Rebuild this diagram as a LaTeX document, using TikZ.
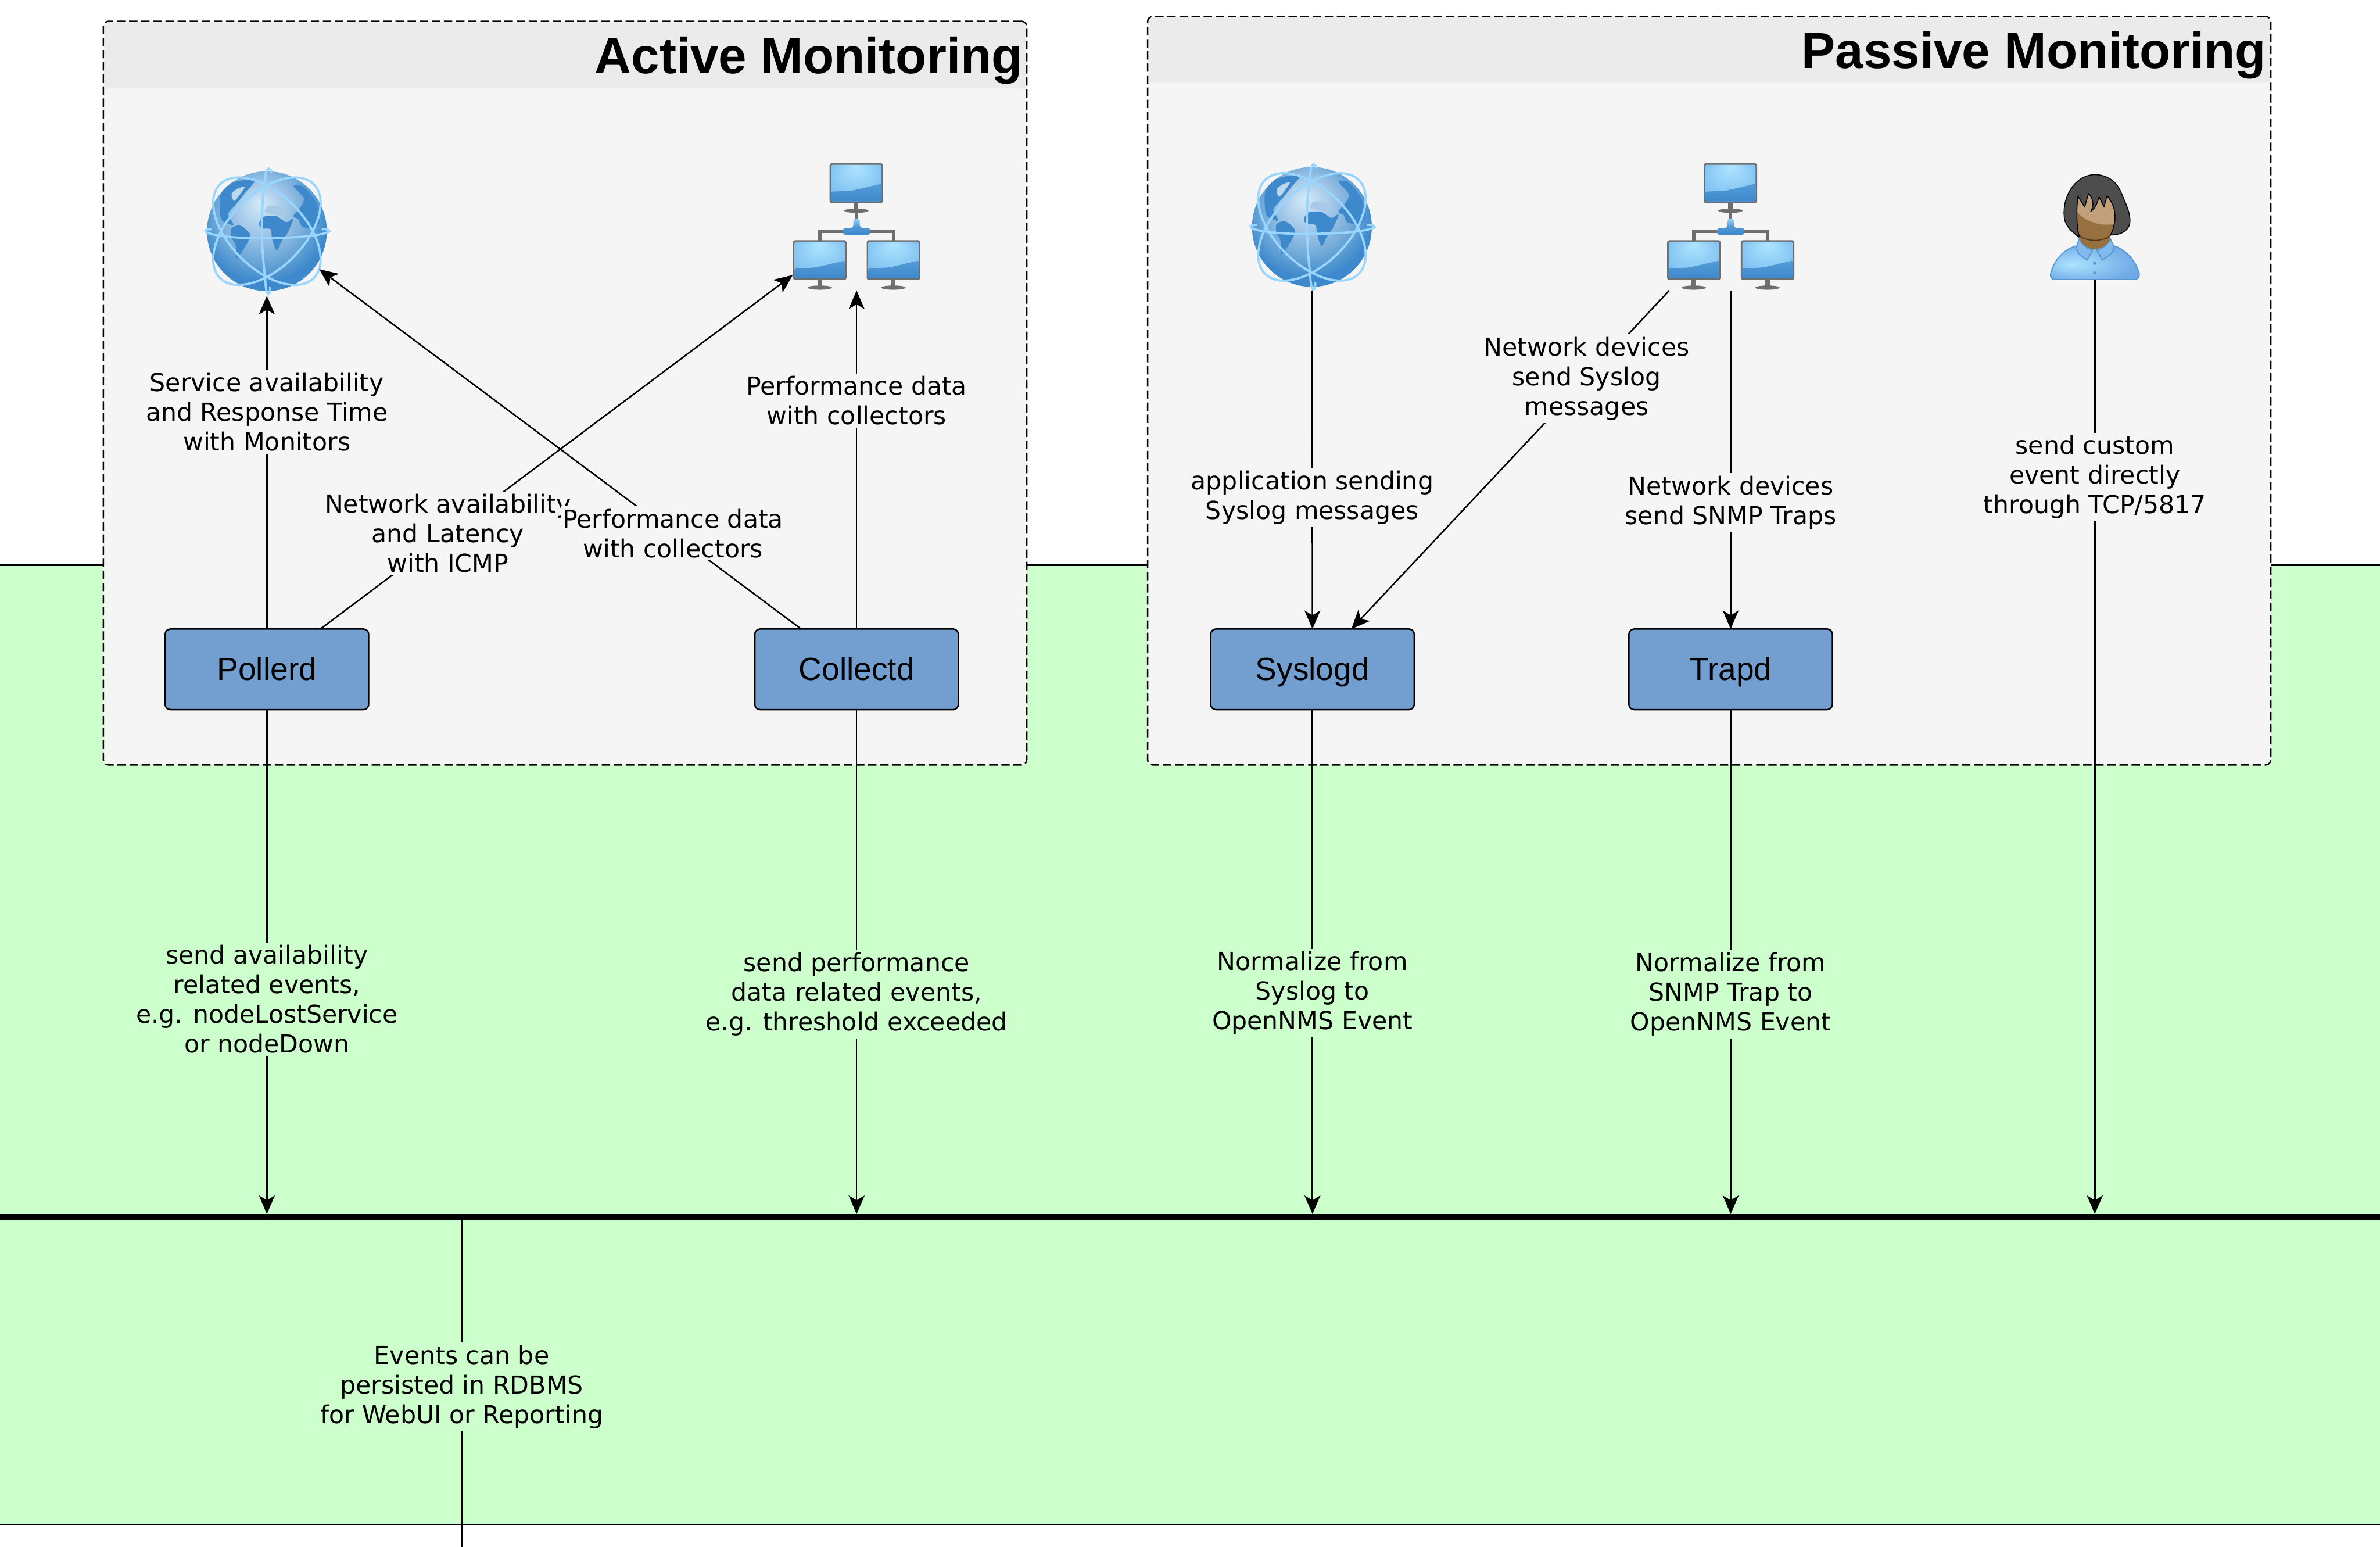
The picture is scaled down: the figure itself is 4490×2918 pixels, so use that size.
\documentclass[tikz,border=0pt]{standalone}
\usepackage{fontspec}
\setmainfont{Liberation Sans}
\newfontfamily\lblfont{DejaVu Sans}
\usepackage{xcolor}
\usetikzlibrary{arrows.meta,positioning,calc}
\definecolor{bandgreen}{HTML}{CCFFCC}
\definecolor{panelgray}{HTML}{F5F5F5}
\definecolor{headgray}{HTML}{EBEBEB}
\definecolor{daemonblue}{HTML}{729FCF}
\definecolor{ringblue}{HTML}{99D6FF}
\definecolor{deepblue}{HTML}{3D89CB}
\definecolor{framegray}{HTML}{6E6E6E}
\definecolor{hair}{HTML}{4D4D4D}
\definecolor{shirtline}{HTML}{5496CE}
\definecolor{shirtpale}{HTML}{AEE4FF}
\definecolor{shirtdeep}{HTML}{6FA8E6}
\definecolor{skinpale}{HTML}{C1A07A}
\definecolor{skindeep}{HTML}{97703F}
\definecolor{glowa}{HTML}{D5EAF9}
\definecolor{glowb}{HTML}{A5C9E8}
\definecolor{glowc}{HTML}{78AEDB}
\pgfdeclareradialshading{globeglow}{\pgfpoint{-3bp}{12bp}}{color(0bp)=(glowa); color(10bp)=(glowb); color(18bp)=(glowc); color(27bp)=(deepblue); color(50bp)=(deepblue)}
\pgfdeclareradialshading{screenglow}{\pgfpoint{0bp}{22bp}}{color(0bp)=(shirtpale); color(28bp)=(ringblue!75!deepblue); color(50bp)=(ringblue!50!deepblue)}
\pgfdeclareradialshading{shirtglow}{\pgfpoint{-14bp}{-3bp}}{color(0bp)=(shirtpale); color(30bp)=(shirtdeep); color(50bp)=(shirtdeep)}
\tikzset{
  panelbox/.style={draw=black,dash pattern=on 4.5pt off 2pt,fill=panelgray,rounded corners=1mm,line width=0.27mm,inner sep=0pt},
  iconbox/.style={inner sep=0pt,outer sep=0pt},
  daemon/.style={draw=black,fill=daemonblue,rounded corners=1mm,line width=0.27mm,
                 minimum width=38.4mm,minimum height=15.2mm,inner sep=0pt,outer sep=0pt,
                 text height=12pt,text depth=0.3pt,font=\fontsize{17.2}{20}\selectfont},
  arr/.style={-{Stealth[length=3.5mm,width=3mm,inset=0.9mm]},line width=0.28mm,black},
  lbl/.style={align=center,font=\lblfont\fontsize{13.3}{15.9}\selectfont,inner xsep=0.3mm,inner ysep=0.5mm},
  lblp/.style={lbl,fill=panelgray},
  lblg/.style={lbl,fill=bandgreen},
  headline/.style={font=\fontsize{27.2}{30}\selectfont\bfseries,anchor=east,inner sep=0pt},
  % one monitor, centred on its screen
  screen/.pic={
    \fill[framegray] (-4,37) rectangle (4,50);
    \fill[framegray] (0,52) ellipse [x radius=23,y radius=4];
    \fill[framegray,rounded corners=0.4mm] (-50.5,-37.5) rectangle (50.5,37.5);
    \shade[shading=screenglow,rounded corners=0.2mm] (-47.5,-34.5) rectangle (47.5,34.5);
    \shade[top color=deepblue!75!ringblue,bottom color=deepblue,rounded corners=0.2mm]
      (-47.5,16) .. controls (-20,15) and (-5,14) .. (0,12) .. controls (15,9) and (30,5) .. (47.5,1) -- (47.5,34.5) -- (-47.5,34.5) -- cycle;
  },
  netgroup/.pic={
    \draw[framegray,line width=0.6mm] (0,-30) -- (0,-10);
    \draw[framegray,line width=0.6mm] (-69.5,26) -- (-69.5,9) -- (69.5,9) -- (69.5,26);
    \pic at (-0.5,-82.5) {screen};
    \pic at (-69.5,62.5) {screen};
    \pic at (69.5,62.5) {screen};
    \shade[top color=ringblue,bottom color=deepblue,middle color=deepblue!80!ringblue,rounded corners=0.5mm]
      (-6,-16) -- (6,-16) -- (6,2) -- (26,2) -- (26,15) -- (-26,15) -- (-26,2) -- (-6,2) -- cycle;
  },
  globe/.pic={
    \shade[shading=globeglow] (0,0) circle (113);
    \begin{scope}
      \clip (0,0) circle (113);
      \begin{scope}[scale=1/3,shift={(-490,-436)}]
        \fill[deepblue] plot[smooth cycle] coordinates {(225,240) (270,175) (340,150) (420,150) (370,215) (335,260) (300,300) (270,340) (300,400) (240,380) (225,340)};
        \fill[deepblue] plot[smooth cycle] coordinates {(290,420) (340,405) (395,455) (375,510) (340,565) (315,590) (315,520) (290,470)};
        \fill[deepblue] plot[smooth cycle] coordinates {(445,390) (470,355) (540,350) (600,385) (640,365) (610,440) (575,490) (545,545) (520,480) (510,425) (460,420)};
        \fill[deepblue] plot[smooth cycle] coordinates {(640,180) (690,180) (740,230) (780,300) (790,380) (760,420) (690,410) (670,370) (640,350) (680,300) (700,250)};
        \fill[deepblue!45!white] plot[smooth cycle] coordinates {(480,325) (500,295) (560,295) (610,335) (540,345)};
        \fill[deepblue!35!white] plot[smooth cycle] coordinates {(290,225) (325,195) (365,185) (340,225) (305,265)};
      \end{scope}
    \end{scope}
    \draw[ringblue,line width=0.42mm] (0,0) ellipse [x radius=125,y radius=70,rotate=45];
    \draw[ringblue,line width=0.42mm] (0,0) ellipse [x radius=125,y radius=70,rotate=-45];
    \begin{scope}[scale=1/3,shift={(-490,-436)}]
      \draw[ringblue,line width=0.42mm] (140,437) .. controls (180,470) and (400,480) .. (490,475) .. controls (620,475) and (800,465) .. (845,437) .. controls (840,425) and (825,425) .. (800,425);
      \draw[ringblue,line width=0.42mm] (140,437) .. controls (142,425) and (160,425) .. (180,425);
      \draw[ringblue,line width=0.42mm] (480,150) .. controls (480,110) and (490,85) .. (500,82) .. controls (510,85) and (515,95) .. (515,105);
      \draw[ringblue,line width=0.42mm] (480,150) .. controls (455,300) and (455,500) .. (480,700) .. controls (482,760) and (490,790) .. (497,792) .. controls (510,785) and (510,770) .. (508,750);
    \end{scope}
  },
  person/.pic={
    \begin{scope}[scale=1/3,shift={(-516,-384)}]
      \fill[hair,draw=black,line width=0.17mm] (428,443) .. controls (370,400) and (345,370) .. (342,320) .. controls (335,190) and (420,88) .. (515,88) .. controls (590,88) and (640,130) .. (665,190) .. controls (690,250) and (715,300) .. (715,350) .. controls (715,400) and (670,430) .. (605,430) -- cycle;
      \fill[skindeep] (430,430) -- (605,430) -- (602,470) -- (520,515) -- (430,470) -- cycle;
      \shade[shading=shirtglow,draw=shirtline,line width=0.2mm] (265,650) .. controls (285,570) and (340,510) .. (415,490) -- (620,490) .. controls (690,510) and (745,570) .. (768,650) .. controls (770,670) and (755,682) .. (740,682) -- (290,682) .. controls (275,682) and (262,670) .. (265,650) -- cycle;
      \fill[shirtdeep!70!shirtpale,draw=shirtline,line width=0.2mm] (428,448) .. controls (445,490) and (480,510) .. (503,515) -- (472,572) .. controls (440,550) and (420,535) .. (415,515) -- (415,490) -- cycle;
      \fill[shirtdeep!70!shirtpale,draw=shirtline,line width=0.2mm] (602,448) .. controls (590,490) and (550,510) .. (527,515) -- (558,572) .. controls (590,550) and (615,535) .. (620,515) -- (622,490) -- cycle;
      \fill[skindeep] (432,440) -- (600,440) -- (598,470) .. controls (570,495) and (540,510) .. (515,510) .. controls (490,510) and (460,495) .. (436,470) -- cycle;
      \fill[shirtline] (515,590) circle (9) (515,645) circle (9);
      \begin{scope}
        \path[clip] (420,210) -- (458,272) -- (480,195) .. controls (505,220) and (515,260) .. (493,295) .. controls (515,285) and (530,250) .. (540,215) -- (568,270) -- (585,208) .. controls (620,250) and (632,290) .. (630,340) .. controls (625,390) and (610,420) .. (605,430) .. controls (570,470) and (460,470) .. (428,430) .. controls (410,370) and (412,290) .. (420,210) -- cycle;
        \fill[skindeep] (400,190) rectangle (640,480);
        \fill[skinpale] (400,190) -- (640,190) -- (640,365) .. controls (560,385) and (470,360) .. (410,295) -- cycle;
      \end{scope}
      \draw[line width=0.17mm,black!60!brown] (428,430) .. controls (460,470) and (570,470) .. (605,430);
      \draw[black,line width=0.17mm,line join=round] (428,440) .. controls (410,370) and (412,290) .. (420,210) -- (458,272) -- (480,195) .. controls (505,220) and (515,260) .. (493,295) .. controls (515,285) and (530,250) .. (540,215) -- (568,270) -- (585,208) .. controls (620,250) and (632,290) .. (630,340) .. controls (625,390) and (610,420) .. (605,430);
    \end{scope}
  },
}

\begin{document}
\begin{tikzpicture}[x=0.1mm,y=-0.1mm]
  \useasboundingbox (0,0) rectangle (4490,2918);
  % green band and event bus
  \draw[fill=bandgreen,line width=0.27mm] (-10,1066) rectangle (4500,2876);
  \node[fill=black,minimum width=449mm,minimum height=1.2mm,inner sep=0pt,outer sep=0pt] (bus) at (2245,2296) {};
  % panels
  \node[panelbox,minimum width=174.2mm,minimum height=140.3mm] (activebox) at (1066,741.5) {};
  \fill[headgray] (197,167) [rounded corners=0.8mm] -- (197,42) -- (1935,42) [sharp corners] -- (1935,167) -- cycle;
  \node[headline] (activetitle) at (1930,114) {Active Monitoring};
  \node[panelbox,minimum width=211.9mm,minimum height=141.2mm] (passivebox) at (3224.5,737) {};
  \fill[headgray] (2167,155) [rounded corners=0.8mm] -- (2167,33) -- (4282,33) [sharp corners] -- (4282,155) -- cycle;
  \node[headline] (passivetitle) at (4276,104) {Passive Monitoring};
  % icons
  \node[iconbox,circle,minimum size=24.4mm] (globeA) at (503.5,436) {};
  \pic at (globeA) {globe};
  \node[iconbox,minimum width=24.1mm,minimum height=24mm] (netA) at (1616,428) {};
  \pic at (netA) {netgroup};
  \node[iconbox,circle,minimum size=24mm] (globeB) at (2475,428) {};
  \pic at (globeB) {globe};
  \node[iconbox,minimum width=24.1mm,minimum height=24mm] (netB) at (3265,428) {};
  \pic at (netB) {netgroup};
  \node[iconbox,minimum width=17mm,minimum height=20mm] (userC) at (3952,428) {};
  \pic at (userC) {person};
  % daemons
  \node[daemon] (pollerd) at (503.5,1262.5) {Pollerd};
  \node[daemon] (collectd) at (1616,1262.5) {Collectd};
  \node[daemon] (syslogd) at (2476,1262.5) {Syslogd};
  \node[daemon] (trapd) at (3265,1262.5) {Trapd};
  % active paths
  \draw[arr] (pollerd.north) -- node[lblp,pos=.652] (svclbl) {Service availability\\and Response Time\\with Monitors} (globeA.south);
  \draw[arr] (pollerd.37) -- node[lblp,pos=.27] (netlbl) {Network availability\\and Latency\\with ICMP} (netA.217);
  \draw[arr] (collectd.144) -- node[lblp,pos=.266] (perflbl) {Performance data\\with collectors} (globeA.-36);
  \draw[arr] (collectd.north) -- node[lblp,pos=.675] (colllbl) {Performance data\\with collectors} (netA.south);
  % passive paths
  \draw[arr] (globeB.south) -- node[lblp,pos=.611] (applbl) {application sending\\Syslog messages} (syslogd.north);
  \draw[arr] (netB.226.5) -- node[lblp,pos=.26] (devlbl) {Network devices\\send Syslog\\messages} (syslogd.46.7);
  \draw[arr] (netB.south) -- node[lblp,pos=.627] (traplbl) {Network devices\\send SNMP Traps} (trapd.north);
  \draw[arr] (userC.south) -- node[lblp,pos=.211] (userlbl) {send custom\\event directly\\through TCP/5817} (userC.south |- bus.north);
  % events to the bus
  \draw[arr] (pollerd.south) -- node[lblg,pos=.574] (pollbl) {send availability\\related events,\\e.g. nodeLostService\\or nodeDown} (pollerd.south |- bus.north);
  \draw[arr] (collectd.south) -- node[lblg,pos=.564] (evtlbl) {send performance\\data related events,\\e.g. threshold exceeded} (collectd.south |- bus.north);
  \draw[arr] (syslogd.south) -- node[lblg,pos=.562] (synlbl) {Normalize from\\Syslog to\\OpenNMS Event} (syslogd.south |- bus.north);
  \draw[arr] (trapd.south) -- node[lblg,pos=.564] (trnlbl) {Normalize from\\SNMP Trap to\\OpenNMS Event} (trapd.south |- bus.north);
  % persistence
  \coordinate (rdbms) at (871,2918);
  \draw[line width=0.28mm] (rdbms |- bus.south) -- node[lblg,pos=.51] (dblbl) {Events can be\\persisted in RDBMS\\for WebUI or Reporting} (rdbms);
\end{tikzpicture}
\end{document}
